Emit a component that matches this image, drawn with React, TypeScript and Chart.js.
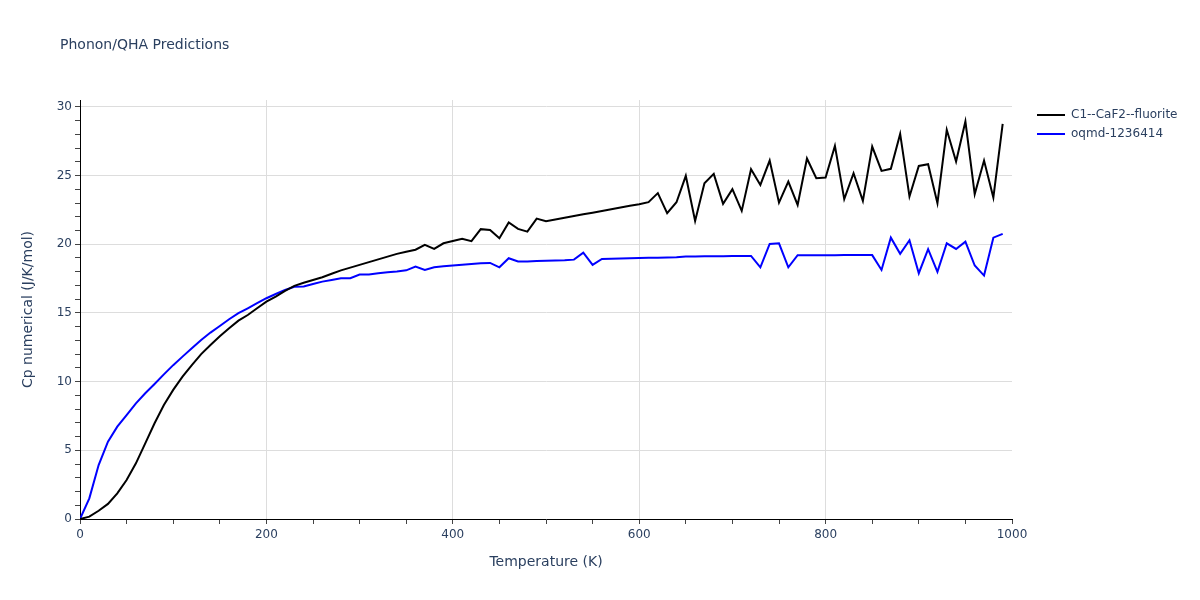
import React, { useEffect, useRef } from "react";
import { Chart, registerables } from "chart.js";

Chart.register(...registerables);

const temperatures = [
  0, 10, 20, 30, 40, 50, 60, 70, 80, 90,
  100, 110, 120, 130, 140, 150, 160, 170, 180, 190,
  200, 210, 220, 230, 240, 250, 260, 270, 280, 290,
  300, 310, 320, 330, 340, 350, 360, 370, 380, 390,
  400, 410, 420, 430, 440, 450, 460, 470, 480, 490,
  500, 510, 520, 530, 540, 550, 560, 570, 580, 590,
  600, 610, 620, 630, 640, 650, 660, 670, 680, 690,
  700, 710, 720, 730, 740, 750, 760, 770, 780, 790,
  800, 810, 820, 830, 840, 850, 860, 870, 880, 890,
  900, 910, 920, 930, 940, 950, 960, 970, 980, 990,
];

const caf2Fluorite = [
  0, 0.17, 0.6, 1.1, 1.87, 2.84, 4.05, 5.5, 6.97, 8.3,
  9.4, 10.36, 11.2, 12.0, 12.67, 13.3, 13.88, 14.44, 14.85, 15.34,
  15.82, 16.19, 16.6, 16.97, 17.2, 17.4, 17.6, 17.85, 18.1, 18.3,
  18.5, 18.7, 18.9, 19.1, 19.3, 19.45, 19.6, 19.95, 19.66, 20.07,
  20.24, 20.39, 20.22, 21.1, 21.04, 20.44, 21.58, 21.12, 20.92, 21.87,
  21.68, 21.8, 21.93, 22.05, 22.18, 22.3, 22.42, 22.55, 22.68, 22.8,
  22.91, 23.06, 23.72, 22.27, 23.06, 24.98, 21.7, 24.44, 25.12, 22.94,
  24.01, 22.43, 25.46, 24.32, 26.09, 23.03, 24.56, 22.86, 26.24, 24.81,
  24.85, 27.16, 23.28, 25.17, 23.16, 27.11, 25.34, 25.49, 28.03, 23.47,
  25.7, 25.83, 22.99, 28.33, 26.02, 28.94, 23.65, 26.09, 23.4, 28.76,
];

const oqmd1236414 = [
  0, 1.5, 3.93, 5.63, 6.72, 7.57, 8.42, 9.15, 9.83, 10.53,
  11.2, 11.82, 12.43, 13.03, 13.57, 14.05, 14.54, 14.98, 15.34, 15.71,
  16.07, 16.38, 16.67, 16.9, 16.92, 17.1, 17.28, 17.4, 17.53, 17.53,
  17.79, 17.8, 17.89, 17.97, 18.02, 18.1, 18.37, 18.13, 18.32, 18.39,
  18.45, 18.5, 18.56, 18.62, 18.64, 18.32, 18.98, 18.74, 18.75, 18.78,
  18.8, 18.82, 18.84, 18.88, 19.39, 18.5, 18.93, 18.95, 18.97, 18.98,
  19.0, 19.02, 19.02, 19.04, 19.06, 19.1, 19.1, 19.12, 19.13, 19.13,
  19.14, 19.14, 19.15, 18.32, 20.02, 20.07, 18.32, 19.2, 19.2, 19.2,
  19.2, 19.2, 19.21, 19.21, 19.21, 19.21, 18.13, 20.48, 19.3, 20.29,
  17.89, 19.64, 17.99, 20.07, 19.66, 20.19, 18.45, 17.72, 20.48, 20.75,
];

const seriesNames = ["C1--CaF2--fluorite", "oqmd-1236414"];
const seriesColors = ["#000000", "#0000ff"];
const chartTitle = "Phonon/QHA Predictions";
const xTitle = "Temperature (K)";
const yTitle = "Cp numerical (J/K/mol)";

const FONT = '"DejaVu Sans", verdana, arial, sans-serif';
const TEXT = "#2a3f5f";

const overlayPlugin = {
  id: "overlay",
  afterDraw(chart: any) {
    const ctx = chart.ctx;
    ctx.save();
    ctx.fillStyle = TEXT;
    ctx.font = `14px ${FONT}`;
    ctx.textBaseline = "middle";
    ctx.textAlign = "left";
    ctx.fillText(chartTitle, 60, 45);
    ctx.font = `12px ${FONT}`;
    chart.data.datasets.forEach((ds: any, i: number) => {
      const y = 115 + i * 19;
      ctx.strokeStyle = ds.borderColor;
      ctx.lineWidth = 2;
      ctx.beginPath();
      ctx.moveTo(1037, y);
      ctx.lineTo(1065, y);
      ctx.stroke();
      ctx.fillStyle = TEXT;
      ctx.fillText(ds.label, 1071, y);
    });
    ctx.restore();
  },
};

export default function App() {
  const ref = useRef<HTMLCanvasElement>(null);
  useEffect(() => {
    if (!ref.current) return;
    const series = [caf2Fluorite, oqmd1236414];
    const chart = new Chart(ref.current, {
      type: "line",
      data: {
        datasets: series.map((vals, i) => ({
          label: seriesNames[i],
          data: temperatures.map((t, j) => ({ x: t, y: vals[j] })),
          borderColor: seriesColors[i],
          backgroundColor: seriesColors[i],
          borderWidth: 2,
          pointRadius: 0,
          tension: 0,
          fill: false,
        })),
      },
      options: {
        animation: false,
        responsive: false,
        layout: { padding: { left: 0, right: 188, top: 100, bottom: 0 } },
        plugins: {
          legend: { display: false },
          title: { display: false },
          tooltip: { enabled: false },
        },
        scales: {
          x: {
            type: "linear",
            min: 0,
            max: 1000,
            afterFit(scale: any) {
              scale.height = 81;
            },
            border: { display: true, color: "#000", width: 1 },
            grid: {
              color: (c: any) =>
                c.tick && c.tick.value % 200 === 0 && c.tick.value !== 0 && c.tick.value !== 1000
                  ? "#dddddd"
                  : "rgba(0,0,0,0)",
              tickColor: "#444",
              tickLength: 5,
              lineWidth: 1,
            },
            ticks: {
              stepSize: 50,
              autoSkip: false,
              maxRotation: 0,
              includeBounds: false,
              padding: 4,
              color: TEXT,
              font: { family: FONT, size: 12 },
              callback: (v: any) => (Number(v) % 200 === 0 ? String(v) : ""),
            },
            title: {
              display: true,
              text: xTitle,
              color: TEXT,
              font: { family: FONT, size: 14 },
              padding: { top: 0, bottom: 29 },
            },
          },
          y: {
            type: "linear",
            min: 0,
            max: 30.5,
            afterFit(scale: any) {
              scale.width = 80;
            },
            border: { display: true, color: "#000", width: 1 },
            grid: {
              color: (c: any) =>
                c.tick && c.tick.value % 5 === 0 && c.tick.value !== 0 ? "#dddddd" : "rgba(0,0,0,0)",
              tickColor: "#444",
              tickLength: 5,
              lineWidth: 1,
            },
            ticks: {
              stepSize: 1,
              autoSkip: false,
              includeBounds: false,
              padding: 3,
              color: TEXT,
              font: { family: FONT, size: 12 },
              callback: (v: any) => (Number(v) % 5 === 0 ? String(v) : ""),
            },
            title: {
              display: true,
              text: yTitle,
              color: TEXT,
              font: { family: FONT, size: 14 },
              padding: { top: 20, bottom: 0 },
            },
          },
        },
      },
      plugins: [overlayPlugin],
    });
    return () => chart.destroy();
  }, []);

  return (
    <div style={{ position: "fixed", left: 0, top: 0, width: 1200, height: 600, background: "#fff" }}>
      <canvas ref={ref} width={1200} height={600} style={{ width: 1200, height: 600 }} />
    </div>
  );
}
